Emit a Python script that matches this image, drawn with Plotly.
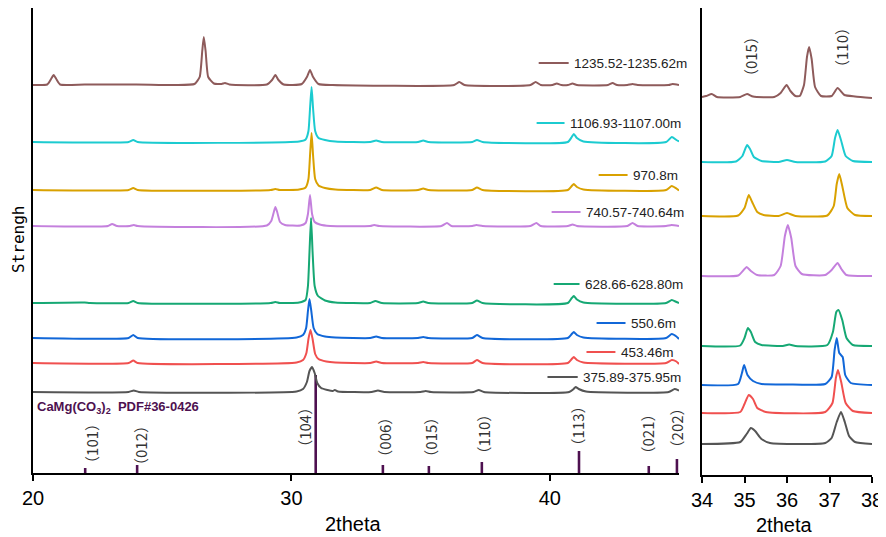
import plotly.graph_objects as go

# sample labels, top to bottom
samples = ["1235.52-1235.62m", "1106.93-1107.00m", "970.8m", "740.57-740.64m",
           "628.66-628.80m", "550.6m", "453.46m", "375.89-375.95m"]
colors = ["#8E5B5B", "#1CCBD0", "#D9A100", "#C480DD",
          "#16A874", "#1167D8", "#F0504F", "#555555"]

# stacking offsets of each pattern (left panel, right panel)
offsets_left = [388, 331, 283, 247, 170, 135, 110, 81]
offsets_right = [378, 313, 259, 199, 129, 90, 62, 31]

# full scans 20-45 deg, (2theta, intensity above baseline)
left_1235 = [(20.0, 0), (20.55, 0.5), (20.7, 6), (20.8, 10), (20.9, 6), (21.05, 0.5), (22.0, 0.5),
             (24.0, 0.5), (25.5, 0), (26.25, 1), (26.45, 8), (26.55, 34), (26.61, 48), (26.68, 34),
             (26.78, 8), (27.0, 1.5), (27.3, 1), (27.43, 2), (27.6, 0.5), (29.05, 0.5), (29.25, 5),
             (29.38, 10), (29.5, 5), (29.7, 0.5), (30.4, 1), (30.6, 8), (30.72, 15), (30.84, 8),
             (31.05, 1), (31.6, 0), (36.3, 0), (36.5, 3), (36.7, 0), (39.25, 0), (39.45, 3),
             (39.65, 0), (40.1, 0), (40.27, 1.5), (40.45, 0), (40.7, 0), (40.88, 1.5), (41.05, 0),
             (42.25, 0), (42.43, 2), (42.6, 0), (43.0, 0), (43.2, 1), (43.4, 0), (44.6, 0),
             (44.75, 1), (45.0, 0)]
left_1106 = [(20.0, 0), (23.7, 0), (23.88, 2), (24.05, 0), (30.3, 0.5), (30.55, 2.5), (30.66, 11),
             (30.72, 33), (30.78, 55), (30.84, 33), (30.92, 11), (31.05, 4), (31.3, 2), (31.7, 0.5),
             (33.05, 0), (33.28, 1.5), (33.5, 0), (34.9, 0), (35.1, 1.5), (35.3, 0), (37.0, 0),
             (37.18, 2), (37.4, 0), (40.7, 0), (40.85, 5), (40.93, 8), (41.05, 4), (41.3, 0.5),
             (44.5, 0), (44.72, 5), (44.9, 2), (45.0, 0.5)]
left_970 = [(20.0, 0), (23.7, 0), (23.88, 2), (24.05, 0), (29.2, 0), (29.38, 1), (29.55, 0),
            (30.3, 0.5), (30.55, 2.5), (30.66, 11), (30.72, 34), (30.78, 57), (30.84, 34),
            (30.92, 11), (31.05, 4.5), (31.3, 2), (31.7, 0.5), (33.05, 0), (33.28, 2.5), (33.5, 0),
            (34.9, 0), (35.1, 1.5), (35.3, 0), (37.0, 0), (37.18, 2.5), (37.4, 0), (40.7, 0),
            (40.85, 4), (40.93, 6), (41.05, 3), (41.3, 0.5), (44.5, 0), (44.72, 4), (44.9, 1.5),
            (45.0, -0.5)]
left_740 = [(20.0, 0), (22.9, 0), (23.06, 2), (23.25, 0), (23.75, 0), (23.9, 1), (24.05, 0),
            (29.05, 0.5), (29.22, 5), (29.32, 14), (29.38, 19), (29.45, 14), (29.56, 4), (29.75, 1),
            (30.35, 0.5), (30.55, 3), (30.64, 12), (30.72, 31), (30.8, 12), (30.9, 4), (31.1, 1.5),
            (31.5, 0), (33.05, 0), (33.2, 1), (33.4, 0), (35.8, 0), (36.02, 3), (36.2, 0), (37.0, 0),
            (37.16, 1), (37.4, 0), (39.25, 0), (39.48, 3), (39.65, 0), (40.7, 0), (40.88, 1.5),
            (41.05, 0), (43.0, 0), (43.2, 3), (43.4, 0), (44.5, 0), (44.71, 1), (45.0, 0)]
left_628 = [(20.0, 0), (22.0, 0.5), (22.2, 0), (23.7, 0), (23.88, 2), (24.05, 0), (29.2, 0),
            (29.38, 1), (29.55, 0), (30.3, 0.5), (30.55, 3), (30.64, 17), (30.7, 51), (30.76, 85),
            (30.82, 51), (30.9, 17), (31.03, 7), (31.3, 2.5), (31.7, 0.5), (33.05, 0), (33.25, 2),
            (33.5, 0), (34.9, 0), (35.1, 1.5), (35.3, 0), (37.0, 0), (37.18, 2.5), (37.4, 0),
            (40.7, 0), (40.85, 5), (40.93, 7), (41.05, 3.5), (41.3, 0.5), (44.5, 0), (44.72, 3),
            (44.9, 1), (45.0, 0)]
left_550 = [(20.0, 0), (23.7, 0), (23.88, 3), (24.05, 0), (30.2, 0.5), (30.45, 3), (30.57, 10),
            (30.64, 27), (30.7, 39), (30.77, 27), (30.86, 10), (31.0, 4), (31.3, 1.5), (31.7, 0.5),
            (33.05, 0), (33.28, 1.5), (33.5, 0), (34.9, 0), (35.1, 1), (35.3, 0), (37.0, 0),
            (37.18, 3), (37.4, 0), (40.7, 0), (40.85, 4), (40.93, 6), (41.05, 3), (41.3, 0.5),
            (44.5, 0), (44.72, 4), (44.9, 1.5), (45.0, -1)]
left_453 = [(20.0, 0), (23.7, 0), (23.88, 2.5), (24.05, 0), (30.2, 0.5), (30.45, 3), (30.58, 10),
            (30.66, 24), (30.74, 33), (30.82, 24), (30.92, 9), (31.05, 4), (31.35, 1.5), (31.7, 0.5),
            (33.05, 0), (33.28, 1.5), (33.5, 0), (34.9, 0), (35.1, 1), (35.3, 0), (37.0, 0),
            (37.18, 3), (37.4, 0), (40.7, 0), (40.85, 4), (40.93, 6), (41.05, 3), (41.3, 0.5),
            (44.5, 0), (44.72, 3), (44.9, 1.5), (45.0, -1)]
left_375 = [(20.0, 0), (23.7, 0), (23.9, 1.5), (24.1, 0), (30.2, 0.5), (30.45, 3), (30.6, 10),
            (30.7, 21), (30.8, 25), (30.9, 19), (31.0, 9), (31.15, 4), (31.4, 2), (31.6, 1),
            (31.68, 2), (31.8, 0.5), (33.1, 0), (33.35, 1.5), (33.6, 0), (35.0, 0), (35.2, 1),
            (35.4, 0), (37.05, 0), (37.25, 2), (37.45, 0), (40.75, 0), (40.92, 3), (41.0, 5),
            (41.12, 3), (41.4, 0.5), (44.6, 0), (44.83, 3), (45.0, 1.5)]

# detail scans 34-38 deg
right_1235 = [(34.0, 0), (34.1, 1), (34.23, 3), (34.35, 0), (34.9, 0), (35.06, 3), (35.2, 0.5),
              (35.7, 0), (35.85, 4), (35.99, 12), (36.08, 6), (36.2, 1), (36.3, 1), (36.4, 12),
              (36.47, 40), (36.52, 50), (36.58, 38), (36.66, 10), (36.8, 1), (37.05, 1), (37.19, 9),
              (37.35, 2), (37.6, 0.5), (38.0, -1)]
right_1106 = [(34.0, 0), (34.8, 0.5), (34.95, 6), (35.06, 17), (35.13, 13), (35.22, 5), (35.4, 1),
              (35.8, 0), (36.0, 2), (36.2, 0), (36.9, 0.5), (37.05, 6), (37.13, 24), (37.19, 32),
              (37.27, 22), (37.38, 6), (37.55, 1), (38.0, 0)]
right_970 = [(34.0, 0), (34.85, 0.5), (35.0, 8), (35.1, 21), (35.18, 14), (35.3, 4), (35.45, 1),
             (35.8, 0), (36.0, 3), (36.2, 0), (36.95, 0.5), (37.1, 10), (37.17, 32), (37.23, 42),
             (37.3, 30), (37.42, 8), (37.6, 1), (38.0, 0)]
right_740 = [(34.0, 0), (34.85, 0.5), (34.98, 6), (35.05, 9), (35.15, 5), (35.3, 1), (35.7, 1),
             (35.85, 10), (35.95, 40), (36.02, 51), (36.1, 38), (36.2, 10), (36.35, 2), (36.9, 1),
             (37.05, 6), (37.19, 13), (37.28, 7), (37.4, 1), (38.0, 0)]
right_628 = [(34.0, 0), (34.9, 0.5), (35.0, 8), (35.08, 18), (35.15, 14), (35.25, 4), (35.4, 1),
             (35.9, 0), (36.05, 1.5), (36.2, 0), (36.95, 1), (37.08, 14), (37.16, 34), (37.21, 36),
             (37.3, 26), (37.4, 8), (37.55, 1), (38.0, 0)]
right_550 = [(34.0, 0), (34.85, 1), (34.94, 12), (34.99, 20), (35.07, 10), (35.2, 4), (35.4, 1),
             (36.0, 0.5), (36.9, 1), (37.05, 8), (37.12, 35), (37.17, 47), (37.23, 32), (37.31, 28),
             (37.37, 10), (37.5, 2), (38.0, 0)]
right_453 = [(34.0, 0), (34.9, 1), (35.0, 9), (35.1, 18), (35.2, 14), (35.3, 5), (35.5, 1),
             (36.9, 1), (37.07, 10), (37.15, 35), (37.2, 43), (37.28, 30), (37.38, 10), (37.55, 2),
             (38.0, 0)]
right_375 = [(34.0, 0), (34.9, 2), (35.05, 10), (35.15, 16), (35.25, 13), (35.4, 5), (35.6, 1),
             (36.9, 1), (37.05, 6), (37.17, 22), (37.27, 32), (37.36, 22), (37.46, 8), (37.6, 2),
             (38.0, 0)]

left_scans = [left_1235, left_1106, left_970, left_740, left_628, left_550, left_453, left_375]
right_scans = [right_1235, right_1106, right_970, right_740, right_628, right_550, right_453, right_375]

# CaMg(CO3)2 PDF#36-0426 reference lines
pdf_hkl = ["（101）", "（012）", "（104）", "（006）", "（015）", "（110）", "（113）", "（021）", "（202）"]
pdf_2theta = [22.02, 24.03, 30.94, 33.54, 35.32, 37.37, 41.13, 43.83, 44.92]
pdf_height = [5, 8, 98, 8, 7, 11, 22, 7, 14]

# where the hkl labels sit (x, y in axis units)
hkl_pos = [(22.24, 30), (24.14, 28), (30.48, 46), (33.57, 36), (35.35, 36),
           (37.4, 39), (41.07, 47), (43.78, 39), (44.9, 45)]
# sample legend placement: line start, line end, y
legend_pos = [(39.57, 40.73, 410), (39.49, 40.57, 350), (41.89, 43.01, 298), (40.07, 41.19, 261),
              (40.15, 41.15, 189), (41.81, 42.93, 150), (41.42, 42.54, 121), (39.91, 41.08, 96)]

FONT = "Liberation Sans, Arial, Noto Sans CJK SC"
HKL_FONT = "Noto Sans CJK SC, Liberation Sans"
PDF_COLOR = "#4E1150"

# the page puts the figure 8px in from the top-left corner of the window
PAGE_OFF = 8
W, H = 886, 537


def px_x(px):
    return (px - PAGE_OFF) / W


def px_y(py):
    return 1 - (py - PAGE_OFF) / H


fig = go.Figure()

for scan, off, col, name in zip(left_scans, offsets_left, colors, samples):
    fig.add_trace(go.Scatter(x=[p[0] for p in scan], y=[p[1] + off for p in scan],
                             mode="lines", line=dict(color=col, width=2, shape="spline", smoothing=0.5),
                             name=name, xaxis="x", yaxis="y"))

for scan, off, col, name in zip(right_scans, offsets_right, colors, samples):
    fig.add_trace(go.Scatter(x=[p[0] for p in scan], y=[p[1] + off for p in scan],
                             mode="lines", line=dict(color=col, width=2, shape="spline", smoothing=0.5),
                             name=name, xaxis="x2", yaxis="y2"))

fig.add_trace(go.Bar(x=pdf_2theta, y=pdf_height, width=0.1, marker_color=PDF_COLOR,
                     marker_line_width=0, xaxis="x", yaxis="y"))

annotations = []
shapes = []
for (x0, x1, y), col, name in zip(legend_pos, colors, samples):
    shapes.append(dict(type="line", xref="x", yref="y", x0=x0, x1=x1, y0=y, y1=y,
                       line=dict(color=col, width=2)))
    annotations.append(dict(x=x1 + 0.12, y=y, xref="x", yref="y", text=name, showarrow=False,
                            xanchor="left", yanchor="middle",
                            font=dict(size=13.5, color="#222", family=FONT)))

for lab, (x, y) in zip(pdf_hkl, hkl_pos):
    annotations.append(dict(x=x, y=y, xref="x", yref="y", text=lab, showarrow=False, textangle=-90,
                            xanchor="center", yanchor="middle",
                            font=dict(size=15, color="#333", family=HKL_FONT)))

for lab, x, y in [("（015）", 35.13, 418), ("（110）", 37.27, 428)]:
    annotations.append(dict(x=x, y=y, xref="x2", yref="y2", text=lab, showarrow=False, textangle=-90,
                            xanchor="center", yanchor="middle",
                            font=dict(size=15, color="#333", family=HKL_FONT)))

annotations.append(dict(x=20.06, y=66, xref="x", yref="y", xanchor="left", yanchor="middle",
                        text="CaMg(CO<sub>3</sub>)<sub>2</sub>  PDF#36-0426", showarrow=False,
                        font=dict(size=13, color=PDF_COLOR, family=FONT, weight="bold")))
annotations.append(dict(x=px_x(353), y=px_y(524), xref="paper", yref="paper", text="2theta",
                        xanchor="center", yanchor="middle", showarrow=False,
                        font=dict(size=20, color="black", family=FONT)))
annotations.append(dict(x=px_x(784), y=px_y(525), xref="paper", yref="paper", text="2theta",
                        xanchor="center", yanchor="middle", showarrow=False,
                        font=dict(size=20, color="black", family=FONT)))
annotations.append(dict(x=px_x(18), y=px_y(240), xref="paper", yref="paper", text="Strengh",
                        xanchor="center", yanchor="middle", showarrow=False, textangle=-90,
                        font=dict(size=16, color="black", family="DejaVu Sans Mono")))

axis_common = dict(showline=True, linecolor="black", linewidth=1.5, showgrid=False, zeroline=False,
                   ticks="outside", ticklen=6, tickwidth=1.5, tickcolor="black", automargin=False,
                   tickfont=dict(size=20, color="black", family=FONT))
yaxis_common = dict(showline=True, linecolor="black", linewidth=1.5, showticklabels=False, ticks="",
                    showgrid=False, zeroline=False, automargin=False)

fig.update_layout(
    width=W, height=H, margin=dict(l=0, r=0, t=0, b=0, autoexpand=False),
    paper_bgcolor="white", plot_bgcolor="white", showlegend=False,
    xaxis=dict(domain=[px_x(33), px_x(679)], range=[20, 45], tickvals=[20, 30, 40],
               anchor="y", **axis_common),
    yaxis=dict(domain=[px_y(473), 1], range=[0, 465], anchor="x", **yaxis_common),
    xaxis2=dict(domain=[px_x(702), px_x(872)], range=[34, 38], tickvals=[34, 35, 36, 37, 38],
                anchor="y2", **axis_common),
    yaxis2=dict(domain=[px_y(475), 1], range=[0, 467], anchor="x2", **yaxis_common),
    annotations=annotations, shapes=shapes,
)

fig.write_html("out.html")
